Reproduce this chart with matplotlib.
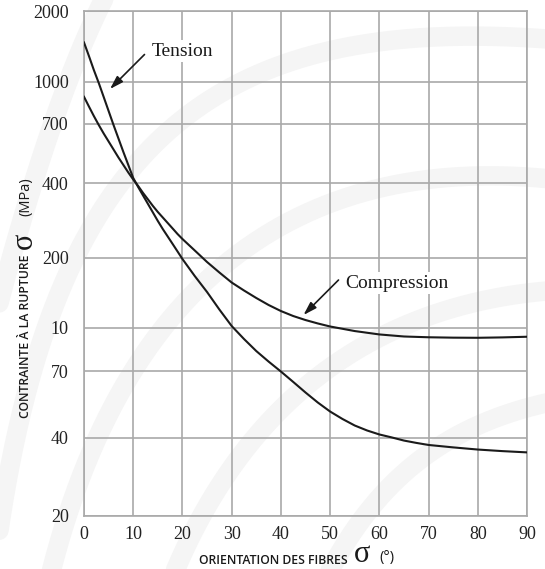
import numpy as np
import matplotlib
matplotlib.use("Agg")
import matplotlib.pyplot as plt
from matplotlib.ticker import NullLocator

# ---- data ----
tension_x = [0, 1, 2, 3, 4, 5, 6, 7, 8, 9, 10, 11, 12, 13, 14, 15, 16, 17, 18, 19, 20,
             22.5, 25, 27.5, 30, 32.5, 35, 37.5, 40, 42.5, 45, 47.5, 50, 52.5, 55, 57.5,
             60, 62.5, 65, 67.5, 70, 75, 80, 85, 90]
tension_y = [1471, 1289, 1124, 991.5, 880.6, 781.7, 693.4, 610.2, 536.8, 474.6, 419.4,
             385.5, 356.3, 329.5, 304.6, 281.6, 261.5, 244.1, 227.8, 212.5, 198.0,
             167.3, 142.8, 120.1, 102.0, 91.3, 82.6, 75.7, 69.7, 63.9, 58.5, 53.8, 49.9,
             46.9, 44.4, 42.6, 41.2, 40.2, 39.1, 38.3, 37.6, 36.8, 36.1, 35.6, 35.2]

compression_x = [0, 1, 2, 3, 4, 5, 6, 7, 8, 9, 10, 11, 12, 13, 14, 15, 16, 17, 18, 19, 20,
                 22.5, 25, 27.5, 30, 32.5, 35, 37.5, 40, 42.5, 45, 47.5, 50, 55, 60, 65,
                 70, 75, 80, 85, 90]
compression_y = [881.9, 812.2, 749.1, 693.4, 639.7, 593.0, 549.7, 509.5, 474.6, 441.9,
                 413.5, 389.2, 364.8, 343.6, 323.5, 306.0, 290.9, 276.5, 262.8, 249.7,
                 238.4, 214.4, 192.2, 173.3, 156.9, 145.0, 134.6, 125.6, 118.3, 112.6,
                 108.2, 104.6, 101.5, 97.5, 94.8, 93.2, 92.6, 92.3, 92.2, 92.5, 93.0]

x_ticks = [0, 10, 20, 30, 40, 50, 60, 70, 80, 90]
y_ticks = [20, 40, 70, 100, 200, 400, 700, 1000, 2000]
y_tick_labels = ["20", "40", "70", "10", "200", "400", "700", "1000", "2000"]

# position of each y gridline on the printed (hand-drawn) log axis, fraction of axis height
y_tick_pos = np.array([0, 78, 145, 188, 258, 333, 392, 434, 505]) / 505.0
log_ticks = np.log10(y_ticks)

def fwd(v):
    v = np.asarray(v, dtype=float)
    return np.interp(np.log10(np.clip(v, 1e-9, None)), log_ticks, y_tick_pos)

def inv(p):
    p = np.asarray(p, dtype=float)
    return 10 ** np.interp(p, y_tick_pos, log_ticks)

W, H = 545, 569
fig = plt.figure(figsize=(W / 100, H / 100), dpi=100)

# faint decorative background swooshes
bg = fig.add_axes([0, 0, 1, 1], zorder=0)
bg.set_xlim(0, W)
bg.set_ylim(H, 0)
bg.axis("off")
t = np.linspace(0, 1, 200)
swooshes = [
    ((-30, 420), (40, 120), (100, -10), (140, -60)),
    ((-10, 600), (40, 150), (200, 10), (560, 40)),
    ((40, 620), (110, 280), (300, 150), (560, 180)),
    ((150, 640), (230, 380), (400, 300), (560, 290)),
    ((300, 640), (360, 470), (460, 420), (560, 400)),
]
for p0, p1, p2, p3 in swooshes:
    bx = (1 - t) ** 3 * p0[0] + 3 * (1 - t) ** 2 * t * p1[0] + 3 * (1 - t) * t ** 2 * p2[0] + t ** 3 * p3[0]
    by = (1 - t) ** 3 * p0[1] + 3 * (1 - t) ** 2 * t * p1[1] + 3 * (1 - t) * t ** 2 * p2[1] + t ** 3 * p3[1]
    bg.plot(bx, by, color="#f5f5f5", lw=14, solid_capstyle="round")

ax = fig.add_axes([84 / W, (H - 516) / H, 443 / W, 505 / H], zorder=1)
ax.set_facecolor("none")
ax.set_yscale("function", functions=(fwd, inv))
ax.set_xlim(0, 90)
ax.set_ylim(20, 2000)

grid_c = "#a9a9a9"
ax.set_xticks(x_ticks)
ax.set_yticks(y_ticks)
ax.set_yticklabels(y_tick_labels)
ax.yaxis.set_minor_locator(NullLocator())
ax.xaxis.set_minor_locator(NullLocator())
ax.grid(True, color=grid_c, lw=1.2)
ax.set_axisbelow(True)
for s in ax.spines.values():
    s.set_color(grid_c)
    s.set_linewidth(1.2)
ax.tick_params(length=0, labelsize=13, colors="#222222", pad=7)
ax.tick_params(axis="y", pad=11)
for lbl in ax.get_xticklabels() + ax.get_yticklabels():
    lbl.set_fontfamily("Liberation Serif")

ax.plot(tension_x, tension_y, color="#1a1a1a", lw=1.5, zorder=3)
ax.plot(compression_x, compression_y, color="#1a1a1a", lw=1.5, zorder=3)

def af(px, py):
    return ((px - 84) / 443.0, (516 - py) / 505.0)

arrow = dict(arrowstyle="-|>,head_length=0.8,head_width=0.25", color="#1a1a1a", lw=1.2,
             shrinkA=0, shrinkB=0)
ax.annotate("", xy=af(110, 89), xytext=af(144.5, 54.5), xycoords="axes fraction",
            textcoords="axes fraction", arrowprops=arrow, zorder=4)
ax.annotate("", xy=af(303.5, 315), xytext=af(338.5, 280), xycoords="axes fraction",
            textcoords="axes fraction", arrowprops=arrow, zorder=4)
bbox = dict(fc="white", ec="none", pad=2)
ax.text(*af(152, 51), "Tension", transform=ax.transAxes, ha="left", va="center",
        fontsize=14, family="Liberation Serif", color="#1a1a1a", bbox=bbox, zorder=4)
ax.text(*af(345, 283), "Compression", transform=ax.transAxes, ha="left", va="center",
        fontsize=14, family="Liberation Serif", color="#1a1a1a", bbox=bbox, zorder=4)

def ft(px, py, s, **kw):
    fig.text(px / W, 1 - py / H, s, **kw)

sans = dict(family="Open Sans", fontweight="semibold", color="#1a1a1a")
ft(273, 561, "ORIENTATION DES FIBRES", ha="center", va="center", fontsize=8.8, **sans)
ft(362, 555, "σ", ha="center", va="center", fontsize=22, family="Liberation Serif", color="#1a1a1a")
ft(387, 558, "(°)", ha="center", va="center", fontsize=10.5, family="Open Sans", color="#1a1a1a")

ft(26, 336, "CONTRAINTE À LA RUPTURE", ha="center", va="center", rotation=90, fontsize=8.8, **sans)
ft(24, 241, "σ", ha="center", va="center", rotation=90, fontsize=22, family="Liberation Serif", color="#1a1a1a")
ft(26, 197, "(MPa)", ha="center", va="center", rotation=90, fontsize=10.5, family="Open Sans", color="#1a1a1a")

fig.savefig("out.png", dpi=100)
